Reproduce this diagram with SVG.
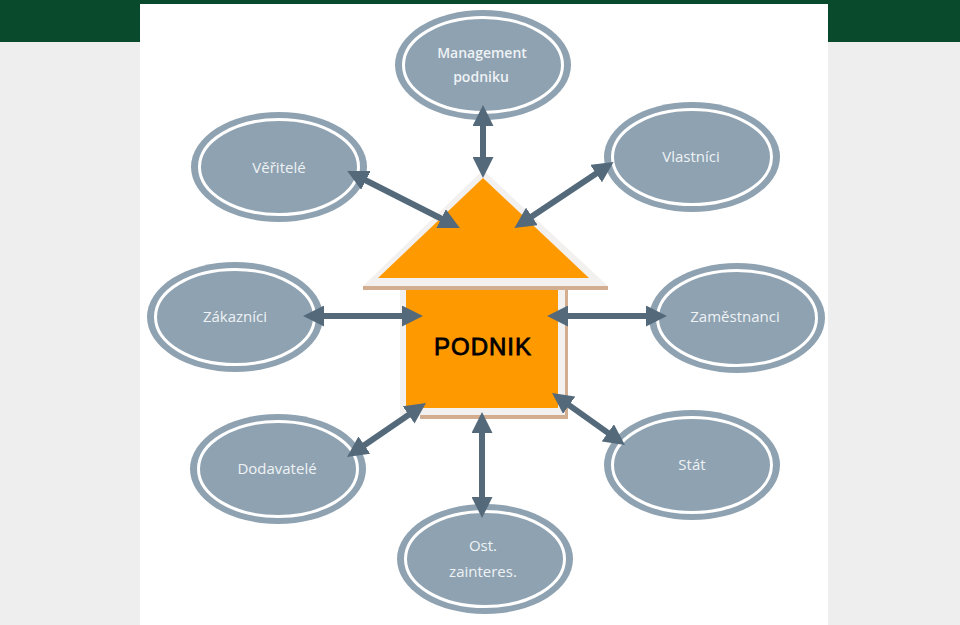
<svg xmlns="http://www.w3.org/2000/svg" width="960" height="625" viewBox="0 0 960 625">
<style>
.ring{fill:#8fa2b1;stroke:none}
.inner{fill:#8fa2b1;stroke:#fff;stroke-width:3}
.lbl{font-family:"Open Sans","Liberation Sans",sans-serif;font-size:15px;fill:#eef2f5;text-anchor:middle;font-weight:500}
.sm{font-size:14px;font-weight:600}
.conn{fill:none;stroke:#546a7b;stroke-width:6;marker-start:url(#a);marker-end:url(#a)}
</style>
<defs>
<marker id="a" viewBox="0 0 10 10" refX="0.500" refY="5" markerWidth="3.500" markerHeight="3.500" orient="auto-start-reverse"><path d="M0 0L10 5L0 10Z" fill="#546a7b"/></marker>
<g id="oval"><ellipse class="ring" rx="88" ry="55"/><ellipse class="inner" rx="79.500" ry="47.500"/></g>
</defs>
<rect width="960" height="625" fill="#eeeeee"/>
<rect width="960" height="42" fill="#0a4a2c"/>
<rect x="140" y="4" width="688" height="621" fill="#fff"/>
<g id="podnik">
<path d="M483 170L363 286H608Z" fill="#f3f1f0"/>
<rect x="400" y="288" width="166" height="127" fill="#f3f1f0"/>
<rect x="363" y="286" width="245" height="4" fill="#d2ad90"/>
<rect x="565" y="288" width="3" height="131" fill="#d2ad90"/>
<rect x="420" y="415" width="148" height="4" fill="#d2ad90"/>
<path d="M483 178L378 278H589Z" fill="#ff9900"/>
<rect x="406" y="290" width="152" height="118" fill="#ff9900"/>
<text x="483" y="355" font-family="'Liberation Sans',sans-serif" font-size="24" stroke="#000" stroke-width=".8" letter-spacing="1" text-anchor="middle" fill="#000">PODNIK</text>
</g>
<g id="management"><use href="#oval" x="483" y="65"/><text class="lbl sm" x="482" y="58">Management</text><text class="lbl sm" x="481" y="82">podniku</text></g>
<g id="veritele"><use href="#oval" x="279" y="167"/><text class="lbl" x="279" y="173">Věřitelé</text></g>
<g id="vlastnici"><use href="#oval" x="692" y="157"/><text class="lbl" x="691" y="162">Vlastníci</text></g>
<g id="zakaznici"><use href="#oval" x="235" y="317"/><text class="lbl" x="235" y="322">Zákazníci</text></g>
<g id="zamestnanci"><use href="#oval" x="737" y="318"/><text class="lbl" x="735" y="322">Zaměstnanci</text></g>
<g id="dodavatele"><use href="#oval" x="278" y="469"/><text class="lbl" x="277" y="474">Dodavatelé</text></g>
<g id="stat"><use href="#oval" x="692" y="465"/><text class="lbl" x="692" y="470">Stát</text></g>
<g id="ost"><use href="#oval" x="485" y="559"/><text class="lbl" x="483" y="551">Ost.</text><text class="lbl" x="483" y="577">zainteres.</text></g>
<g id="connectors">
<path class="conn" d="M483 125V158"/>
<path class="conn" d="M365 180L442 219"/>
<path class="conn" d="M597 173L531 217"/>
<path class="conn" d="M323 316H403"/>
<path class="conn" d="M567 316H647"/>
<path class="conn" d="M363.500 445.700L409.500 414.300"/>
<path class="conn" d="M568.300 404.600L608.700 433.400"/>
<path class="conn" d="M482 432V498"/>
</g>
</svg>
